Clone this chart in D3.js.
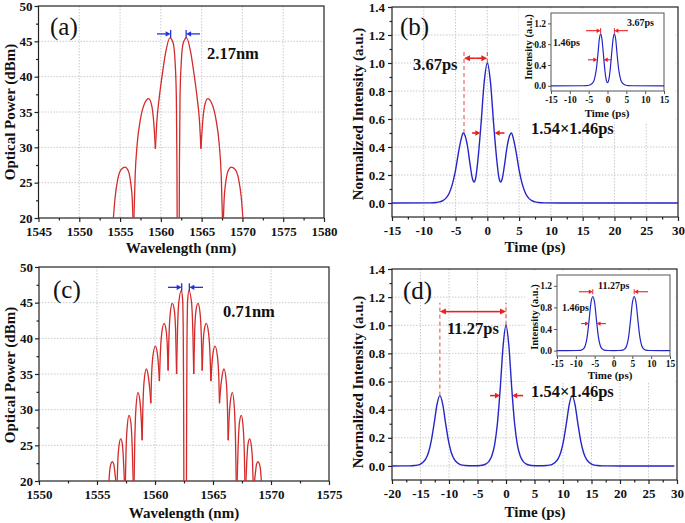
<!DOCTYPE html>
<html><head><meta charset="utf-8">
<script src="https://cdn.jsdelivr.net/npm/d3@7"></script>
<style>body{margin:0;background:#fff}</style>
</head><body>
<svg id="c" width="685" height="523"></svg>
<script>
// ---------------- DATA ----------------
const wlTicksA = [1545,1550,1555,1560,1565,1570,1575,1580];
const wlTicksC = [1550,1555,1560,1565,1570,1575];
const dBmTicks = [20,25,30,35,40,45,50];
const timeTicksB = [-15,-10,-5,0,5,10,15,20,25,30];
const timeTicksD = [-20,-15,-10,-5,0,5,10,15,20,25,30];
const intTicks = [0,0.2,0.4,0.6,0.8,1.0,1.2,1.4];
const insetTimeTicks = [-15,-10,-5,0,5,10,15];
const insetIntTicks = [0,0.4,0.8,1.2];

// spectrum (a): lobes of [wavelength nm, power dBm]
const spectrumA = [
 [[1554.18,20],[1554.4,23],[1554.7,25.4],[1555.1,26.8],[1555.6,27.2],[1556.0,26.7],[1556.3,25.0],[1556.5,22.5],[1556.58,20]],
 [[1556.7,20],[1556.85,26],[1557.1,30.5],[1557.5,34],[1558.0,36.2],[1558.5,36.9],[1558.9,35.8],[1559.15,33.2],[1559.33,29.8]],
 [[1559.33,29.8],[1559.5,33.5],[1559.8,37],[1560.2,40.5],[1560.6,43.5],[1561.1,45.5],[1561.5,44.8],[1561.75,42],[1561.9,37],[1561.97,28],[1562.0,19]],
 [[1562.25,19],[1562.28,28],[1562.35,37],[1562.5,42],[1562.75,44.8],[1563.15,45.5],[1563.65,43.5],[1564.05,40.5],[1564.45,37],[1564.75,33.5],[1564.92,29.8]],
 [[1564.92,29.8],[1565.1,33.2],[1565.35,35.8],[1565.75,36.9],[1566.25,36.2],[1566.75,34],[1567.15,30.5],[1567.4,26],[1567.55,20]],
 [[1567.67,20],[1567.75,22.5],[1567.95,25.0],[1568.25,26.7],[1568.65,27.2],[1569.15,26.8],[1569.55,25.4],[1569.85,23],[1570.06,20]]
];
// spectrum (c)
const spectrumC = [
 [[1556.03,20],[1556.1,21.5],[1556.2,22.4],[1556.32,22.7],[1556.44,22.4],[1556.54,21.2],[1556.62,20]],
 [[1556.74,20],[1556.8,23],[1556.9,25.0],[1557.04,25.9],[1557.18,25.2],[1557.28,23],[1557.36,20]],
 [[1557.45,20],[1557.5,24],[1557.6,27.5],[1557.76,29.2],[1557.92,28.2],[1558.03,25],[1558.12,20]],
 [[1558.2,20],[1558.25,25],[1558.35,30],[1558.53,32.4],[1558.7,31.2],[1558.82,28.5],[1558.89,25.7]],
 [[1558.89,25.7],[1558.95,30],[1559.05,33.8],[1559.25,35.7],[1559.43,34.6],[1559.57,32.5],[1559.64,30.9]],
 [[1559.64,30.9],[1559.7,34.5],[1559.82,37.5],[1560.03,38.9],[1560.2,37.9],[1560.31,36],[1560.38,34]],
 [[1560.38,34],[1560.45,37.5],[1560.58,40.7],[1560.78,42.1],[1560.95,41.2],[1561.06,39],[1561.13,35.5]],
 [[1561.13,35.5],[1561.2,40],[1561.32,43.6],[1561.49,44.9],[1561.66,44],[1561.78,41],[1561.86,35]],
 [[1561.86,35],[1561.93,40.5],[1562.05,45],[1562.27,46.7],[1562.38,45.5],[1562.44,40],[1562.47,30],[1562.49,19]],
 [[1562.71,19],[1562.73,30],[1562.76,40],[1562.82,45.5],[1562.93,46.7],[1563.15,45],[1563.27,40.5],[1563.34,35]],
 [[1563.34,35],[1563.42,41],[1563.54,44],[1563.71,44.9],[1563.88,43.6],[1564.0,40],[1564.07,35.5]],
 [[1564.07,35.5],[1564.14,39],[1564.25,41.2],[1564.42,42.1],[1564.62,40.7],[1564.75,37.5],[1564.82,34]],
 [[1564.82,34],[1564.89,36],[1565.0,37.9],[1565.17,38.9],[1565.38,37.5],[1565.5,34.5],[1565.56,30.9]],
 [[1565.56,30.9],[1565.63,32.5],[1565.77,34.6],[1565.95,35.7],[1566.15,33.8],[1566.25,30],[1566.31,25.7]],
 [[1566.31,25.7],[1566.38,28.5],[1566.5,31.2],[1566.67,32.4],[1566.85,30],[1566.95,25],[1567.0,20]],
 [[1567.08,20],[1567.17,25],[1567.28,28.2],[1567.44,29.2],[1567.6,27.5],[1567.7,24],[1567.75,20]],
 [[1567.84,20],[1567.92,23],[1568.02,25.2],[1568.16,25.9],[1568.3,25.0],[1568.4,23],[1568.46,20]],
 [[1568.58,20],[1568.66,21.2],[1568.76,22.4],[1568.88,22.7],[1569.0,22.4],[1569.1,21.5],[1569.17,20]]
];
// pulse (b): [time ps, normalized intensity]
const pulseB = [[-15,0],[-9,0.001],[-8,0.004],[-7.5,0.008],[-7,0.017],[-6.5,0.035],[-6,0.07],[-5.5,0.135],[-5,0.235],[-4.5,0.37],[-4.1,0.46],[-3.8,0.5],[-3.5,0.48],[-3.1,0.4],[-2.7,0.27],[-2.35,0.175],[-2.1,0.15],[-1.85,0.175],[-1.5,0.3],[-1.0,0.56],[-0.5,0.86],[0,1],
 [0.5,0.86],[1.0,0.56],[1.5,0.3],[1.85,0.175],[2.1,0.15],[2.35,0.175],[2.7,0.27],[3.1,0.4],[3.5,0.48],[3.8,0.5],[4.1,0.46],[4.5,0.37],[5,0.235],[5.5,0.135],[6,0.07],[6.5,0.035],[7,0.017],[7.5,0.008],[8,0.004],[9,0.001],[15,0],[30,0]];
const insetB = [[-15,0],[-6.5,0.001],[-5.5,0.004],[-5,0.01],[-4.5,0.022],[-4,0.05],[-3.5,0.12],[-3,0.3],[-2.5,0.64],[-2.2,0.88],[-1.83,1.0],[-1.5,0.91],[-1.1,0.62],[-0.7,0.3],[-0.35,0.12],[0,0.06],
 [0.35,0.12],[0.7,0.3],[1.1,0.62],[1.5,0.91],[1.83,1.0],[2.2,0.88],[2.5,0.64],[3,0.3],[3.5,0.12],[4,0.05],[4.5,0.022],[5,0.01],[5.5,0.004],[6.5,0.001],[15,0]];
// pulse (d)
const pulseD = [[-20,0],[-18,0.0002],[-17,0.0007],[-16.1,0.0027],[-15.6,0.0055],[-15.1,0.0116],[-14.6,0.024],[-14.1,0.048],[-13.6,0.095],[-13.1,0.18],[-12.6,0.304],[-12.1,0.438],[-11.6,0.5],[-11.1,0.438],[-10.6,0.304],[-10.1,0.18],[-9.6,0.095],[-9.1,0.048],[-8.6,0.024],[-8.1,0.0116],[-7.6,0.0055],[-7.1,0.0027],[-5.8,0.001],[-5,0.0014],[-4,0.0066],[-3.5,0.0147],[-3,0.0324],[-2.5,0.071],[-2,0.15],[-1.5,0.305],[-1,0.558],[-0.5,0.856],[0,1],
 [0.5,0.856],[1,0.558],[1.5,0.305],[2,0.15],[2.5,0.071],[3,0.0324],[3.5,0.0147],[4,0.0066],[5,0.0014],[5.8,0.001],[7.1,0.0027],[7.6,0.0055],[8.1,0.0116],[8.6,0.024],[9.1,0.048],[9.6,0.095],[10.1,0.18],[10.6,0.304],[11.1,0.438],[11.6,0.5],[12.1,0.438],[12.6,0.304],[13.1,0.18],[13.6,0.095],[14.1,0.048],[14.6,0.024],[15.1,0.0116],[15.6,0.0055],[16.1,0.0027],[17,0.0007],[18,0.0002],[20,0],[29.5,0]];
const insetD = [[-15,0],[-9.5,0.002],[-8.5,0.01],[-8,0.03],[-7.5,0.09],[-7,0.25],[-6.5,0.55],[-6,0.88],[-5.5,1.0],[-5,0.88],[-4.5,0.55],[-4,0.25],[-3.5,0.09],[-3,0.03],[-2.5,0.01],[-1.5,0.002],[0,0.0005],
 [1.5,0.002],[2.5,0.01],[3,0.03],[3.5,0.09],[4,0.25],[4.5,0.55],[5,0.88],[5.5,1.0],[6,0.88],[6.5,0.55],[7,0.25],[7.5,0.09],[8,0.03],[8.5,0.01],[9.5,0.002],[15,0]];

// ---------------- DRAWING ----------------
const svg = d3.select('#c');
svg.append('rect').attr('width',685).attr('height',523).attr('fill','#fff');
const SERIF = '"Liberation Serif","Times New Roman",serif';
const RED = '#d42a2a', BLUE = '#2626c8', ARED = '#e82222', ABLUE = '#2233dd';
const fmt = d => String(d);

function panel(o){
  const x = d3.scaleLinear().domain(o.xd).range([o.l,o.r]);
  const y = d3.scaleLinear().domain(o.yd).range([o.b,o.t]);
  const g = svg.append('g');
  if(o.bg) g.append('rect').attr('x',o.bg[0]).attr('y',o.bg[1]).attr('width',o.bg[2]).attr('height',o.bg[3]).attr('fill','#fff');
  if(o.grid){
    g.append('g').selectAll('line').data(o.xt.filter(v=>x(v)>o.l+1&&x(v)<o.r-1)).join('line')
      .attr('x1',d=>x(d)).attr('x2',d=>x(d)).attr('y1',o.t).attr('y2',o.b)
      .attr('stroke','#bdbdbd').attr('stroke-width',0.8).attr('stroke-dasharray','1.5,1.5');
    g.append('g').selectAll('line').data(o.yt.filter(v=>y(v)>o.t+1&&y(v)<o.b-1)).join('line')
      .attr('y1',d=>y(d)).attr('y2',d=>y(d)).attr('x1',o.l).attr('x2',o.r)
      .attr('stroke','#bdbdbd').attr('stroke-width',0.8).attr('stroke-dasharray','1.5,1.5');
  }
  svg.append('clipPath').attr('id','clip'+o.id).append('rect')
    .attr('x',o.l).attr('y',o.t).attr('width',o.r-o.l).attr('height',o.b-o.t);
  g.append('g').attr('transform',`translate(0,${o.b})`)
    .call(d3.axisBottom(x).tickValues(o.xt).tickSize(o.ts).tickSizeOuter(0).tickPadding(o.xpad).tickFormat(o.xf||fmt));
  g.append('g').attr('transform',`translate(${o.l},0)`)
    .call(d3.axisLeft(y).tickValues(o.yt).tickSize(o.ts).tickSizeOuter(0).tickPadding(o.ypad).tickFormat(o.yf||fmt));
  if(o.minor){
    const xm = o.xt.slice(0,-1).map((v,i)=>(v+o.xt[i+1])/2);
    const ym = o.yt.slice(0,-1).map((v,i)=>(v+o.yt[i+1])/2).filter(v=>v>o.yd[0]);
    g.append('g').attr('transform',`translate(0,${o.b})`)
      .call(d3.axisBottom(x).tickValues(xm).tickSize(o.ms).tickSizeOuter(0).tickFormat(''));
    g.append('g').attr('transform',`translate(${o.l},0)`)
      .call(d3.axisLeft(y).tickValues(ym).tickSize(o.ms).tickSizeOuter(0).tickFormat(''));
  }
  g.selectAll('.domain').remove();
  g.selectAll('.tick line').attr('stroke',o.fc||'#222').attr('stroke-width',o.sw);
  g.selectAll('.tick text').attr('font-family',SERIF).attr('font-weight','bold')
    .attr('font-size',o.fs).attr('fill','#111');
  g.append('rect').attr('x',o.l).attr('y',o.t).attr('width',o.r-o.l).attr('height',o.b-o.t)
    .attr('fill','none').attr('stroke',o.fc||'#222').attr('stroke-width',o.sw);
  return {x,y,g,clip:'url(#clip'+o.id+')'};
}

function txt(t,x,y,size,opt={}){
  const e = svg.append('text').attr('x',x).attr('y',y).text(t)
    .attr('font-family',SERIF).attr('font-size',size)
    .attr('font-weight',opt.normal?'normal':'bold').attr('fill','#111')
    .attr('text-anchor',opt.anchor||'start');
  if(opt.rot) e.attr('transform',`rotate(-90,${x},${y})`);
  return e;
}
function arrow(x1,y1,x2,y2,color,hl,hw,sw){
  const a = Math.atan2(y2-y1,x2-x1), c=Math.cos(a), s=Math.sin(a);
  const bx = x2-hl*c, by = y2-hl*s;
  svg.append('line').attr('x1',x1).attr('y1',y1).attr('x2',bx+c).attr('y2',by+s)
    .attr('stroke',color).attr('stroke-width',sw);
  svg.append('path').attr('d',`M${x2},${y2}L${bx-hw*s},${by+hw*c}L${bx+hw*s},${by-hw*c}Z`).attr('fill',color);
}
function vbar(x,y,h,color,sw){
  svg.append('line').attr('x1',x).attr('x2',x).attr('y1',y-h).attr('y2',y+h).attr('stroke',color).attr('stroke-width',sw);
}
function dashed(x,y1,y2){
  svg.append('line').attr('x1',x).attr('x2',x).attr('y1',y1).attr('y2',y2)
    .attr('stroke','#e04848').attr('stroke-width',1).attr('stroke-dasharray','4,3');
}
const lineGen = (p) => d3.line().x(d=>p.x(d[0])).y(d=>p.y(d[1])).curve(d3.curveMonotoneX);

// ---- panel (a)
const pA = panel({id:'a',l:38.5,r:324,t:6,b:218,xd:[1545,1580],yd:[20,50],xt:wlTicksA,yt:dBmTicks,
  grid:true,minor:true,ts:4,ms:2.5,xpad:5,ypad:2,fs:13,sw:1.2});
svg.append('g').attr('clip-path',pA.clip).selectAll('path').data(spectrumA).join('path')
  .attr('d',lineGen(pA)).attr('fill','none').attr('stroke',RED).attr('stroke-width',1.3);
txt('Wavelength (nm)',181,253,15,{anchor:'middle'});
txt('Optical Power (dBm)',15,112,15,{anchor:'middle',rot:true});
txt('(a)',50,35,25,{normal:true});
txt('2.17nm',207,59,16.5);
{
  const yv = pA.y(46.05);
  arrow(pA.x(1559.53),yv,pA.x(1561.2),yv,ABLUE,5,2.6,1.3); vbar(pA.x(1561.2),yv,4,ABLUE,1.3);
  arrow(pA.x(1564.8),yv,pA.x(1563.1),yv,ABLUE,5,2.6,1.3); vbar(pA.x(1563.1),yv,4,ABLUE,1.3);
}

// ---- panel (c)
const pC = panel({id:'c',l:39,r:329,t:267,b:481,xd:[1550,1575],yd:[20,50],xt:wlTicksC,yt:dBmTicks,
  grid:true,minor:true,ts:4,ms:2.5,xpad:5,ypad:2,fs:13,sw:1.2});
svg.append('g').attr('clip-path',pC.clip).selectAll('path').data(spectrumC).join('path')
  .attr('d',lineGen(pC)).attr('fill','none').attr('stroke',RED).attr('stroke-width',1.3);
txt('Wavelength (nm)',184,518,15,{anchor:'middle'});
txt('Optical Power (dBm)',15,375,15,{anchor:'middle',rot:true});
txt('(c)',53,298,25,{normal:true});
txt('0.71nm',223,317,16.5);
{
  const yv = pC.y(47.15);
  arrow(pC.x(1561.12),yv,pC.x(1562.3),yv,ABLUE,5,2.6,1.3); vbar(pC.x(1562.3),yv,4,ABLUE,1.3);
  arrow(pC.x(1564.14),yv,pC.x(1562.96),yv,ABLUE,5,2.6,1.3); vbar(pC.x(1562.96),yv,4,ABLUE,1.3);
}

// ---- panel (b)
const pB = panel({id:'b',l:392,r:678,t:7,b:217,xd:[-15,30],yd:[-0.1,1.4],xt:timeTicksB,yt:intTicks,
  yf:d3.format('.1f'),grid:true,minor:true,ts:4,ms:2.5,xpad:5,ypad:3,fs:13,sw:1.2});
svg.append('g').attr('clip-path',pB.clip).append('path').datum(pulseB)
  .attr('d',lineGen(pB)).attr('fill','none').attr('stroke',BLUE).attr('stroke-width',1.4);

// inset (b)
const iB = panel({id:'ib',l:551,r:664,t:13,b:91,xd:[-15,15],yd:[-0.1,1.4],xt:insetTimeTicks,yt:insetIntTicks,
  yf:d3.format('.1f'),bg:[519,9,156,113],grid:false,minor:false,ts:3,xpad:2,ypad:2,fs:9.5,sw:1,fc:'#555'});
svg.append('g').attr('clip-path',iB.clip).append('path').datum(insetB)
  .attr('d',lineGen(iB)).attr('fill','none').attr('stroke',BLUE).attr('stroke-width',1.2);
txt('Time (ps)',607,117,11,{anchor:'middle'});
txt('Intensity (a.u.)',532,47,10.5,{anchor:'middle',rot:true});
{
  const yt = iB.y(1.06), yh = iB.y(0.5);
  arrow(586,yt,iB.x(-1.83),yt,ARED,4,2.2,1.1); vbar(iB.x(-1.83),yt,2.5,ARED,1);
  arrow(628,yt,iB.x(1.83),yt,ARED,4,2.2,1.1); vbar(iB.x(1.83),yt,2.5,ARED,1);
  arrow(588,yh,iB.x(-2.7),yh,ARED,4,2.2,1.1);
  arrow(612,yh,iB.x(-1.0),yh,ARED,4,2.2,1.1);
}
txt('3.67ps',627,26,10);
txt('1.46ps',553,46,10);

// main (b) annotations
txt('Time (ps)',535,252,15,{anchor:'middle'});
txt('Normalized Intensity (a.u.)',363,114,15,{anchor:'middle',rot:true});
txt('(b)',400,35,25,{normal:true});
dashed(pB.x(-3.67),pB.y(0.5),pB.y(1.09));
dashed(pB.x(0),pB.y(1.0),pB.y(1.09));
{
  const yv = pB.y(1.034), x1 = pB.x(-3.67), x2 = pB.x(0), m=(x1+x2)/2;
  arrow(m,yv,x1,yv,ARED,6,3,1.6); arrow(m,yv,x2,yv,ARED,6,3,1.6);
  const yh = pB.y(0.5);
  arrow(pB.x(-2.4),yh,pB.x(-1.1),yh,ARED,5,2.8,1.6);
  arrow(pB.x(2.7),yh,pB.x(1.15),yh,ARED,5,2.8,1.6);
}
txt('3.67ps',413,70,16.5);
txt('1.54×1.46ps',531,134,16.5);

// ---- panel (d)
const pD = panel({id:'d',l:392,r:677,t:269,b:480,xd:[-20,30],yd:[-0.1,1.4],xt:timeTicksD,yt:intTicks,
  yf:d3.format('.1f'),grid:true,minor:true,ts:4,ms:2.5,xpad:5,ypad:3,fs:13,sw:1.2});
svg.append('g').attr('clip-path',pD.clip).append('path').datum(pulseD)
  .attr('d',lineGen(pD)).attr('fill','none').attr('stroke',BLUE).attr('stroke-width',1.4);

// inset (d)
const iD = panel({id:'id',l:557,r:670,t:275,b:356,xd:[-15,15],yd:[-0.1,1.4],xt:insetTimeTicks,yt:insetIntTicks,
  yf:d3.format('.1f'),bg:[525,271,150,111],grid:false,minor:false,ts:3,xpad:1.5,ypad:2,fs:9.5,sw:1,fc:'#555'});
svg.append('g').attr('clip-path',iD.clip).append('path').datum(insetD)
  .attr('d',lineGen(iD)).attr('fill','none').attr('stroke',BLUE).attr('stroke-width',1.2);
txt('Time (ps)',610,378.5,11,{anchor:'middle'});
txt('Intensity (a.u.)',538,317,10.5,{anchor:'middle',rot:true});
{
  const yt = iD.y(1.09), yh = iD.y(0.5);
  arrow(579,yt,iD.x(-5.5),yt,ARED,4,2.2,1.1); vbar(iD.x(-5.5),yt,2.5,ARED,1);
  arrow(648,yt,iD.x(5.5),yt,ARED,4,2.2,1.1); vbar(iD.x(5.5),yt,2.5,ARED,1);
  arrow(581,yh,iD.x(-6.5),yh,ARED,4,2.2,1.1);
  arrow(606,yh,iD.x(-4.5),yh,ARED,4,2.2,1.1);
}
txt('11.27ps',598,289,10);
txt('1.46ps',562,311,10);

// main (d) annotations
txt('Time (ps)',535,517,15,{anchor:'middle'});
txt('Normalized Intensity (a.u.)',363,382,15,{anchor:'middle',rot:true});
txt('(d)',403,299,25,{normal:true});
dashed(pD.x(-11.6),pD.y(0.5),pD.y(1.16));
dashed(pD.x(0),pD.y(1.0),pD.y(1.16));
{
  const yv = pD.y(1.097), x1 = pD.x(-11.6), x2 = pD.x(0), m=(x1+x2)/2;
  arrow(m,yv,x1,yv,ARED,6,3,1.6); arrow(m,yv,x2,yv,ARED,6,3,1.6);
  const yh = pD.y(0.5);
  arrow(pD.x(-2.8),yh,pD.x(-1.05),yh,ARED,5,2.8,1.6);
  arrow(pD.x(3.0),yh,pD.x(1.1),yh,ARED,5,2.8,1.6);
}
txt('11.27ps',447,334,16.5);
txt('1.54×1.46ps',531,397,16.5);
</script>
</body></html>
